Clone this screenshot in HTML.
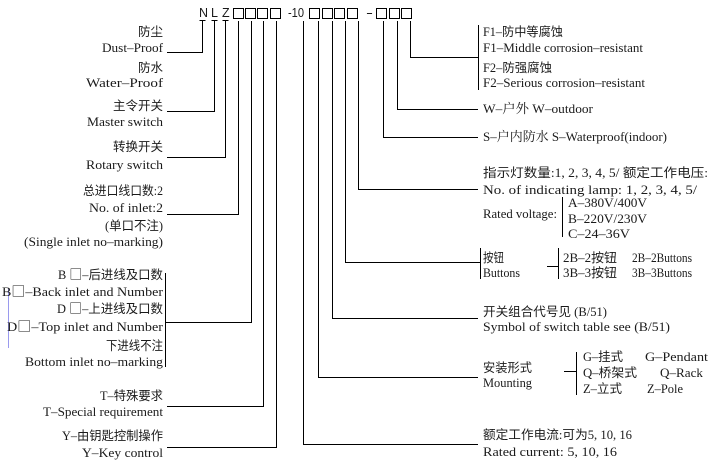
<!DOCTYPE html>
<html><head><meta charset="utf-8"><style>
html,body{margin:0;padding:0;background:#fff;}
svg{display:block;}
text{font-family:"Liberation Serif","Noto Serif CJK SC",serif;font-size:13px;fill:#1a1a1a;}
.c{font-family:"Liberation Serif","Noto Sans CJK SC",sans-serif;font-size:12.5px;}
.h{font-family:"Liberation Sans",sans-serif;font-size:12.5px;}
.l{text-anchor:end;}
.b{font-family:"Noto Sans CJK SC",sans-serif;font-size:13px;}
</style></head><body>
<svg width="711" height="463" viewBox="0 0 711 463" xmlns="http://www.w3.org/2000/svg">
<g stroke="#000" stroke-width="1" fill="none">
<rect x="233.5" y="8.5" width="10" height="10"/>
<rect x="245.5" y="8.5" width="10" height="10"/>
<rect x="257.5" y="8.5" width="10" height="10"/>
<rect x="270.5" y="8.5" width="10" height="10"/>
<rect x="309.5" y="8.5" width="10" height="10"/>
<rect x="322.5" y="8.5" width="10" height="10"/>
<rect x="334.5" y="8.5" width="10" height="10"/>
<rect x="347.5" y="8.5" width="10" height="10"/>
<rect x="376.5" y="8.5" width="10" height="10"/>
<rect x="389.5" y="8.5" width="10" height="10"/>
<rect x="401.5" y="8.5" width="10" height="10"/>
<path d="M199.5 20.5H205.5M211.5 20.5H217.5M222.5 20.5H228.5"/>
<path d="M202.5 20.5V52.5H167"/>
<path d="M214.5 20.5V111.5H167"/>
<path d="M225.5 20.5V157.5H167"/>
<path d="M238.5 21V214.5H167"/>
<path d="M251.5 21V322.5H165.5"/>
<path d="M165.5 273V367"/>
<path d="M263.5 21V406.5H167"/>
<path d="M276.5 21V447.5H167"/>
<path d="M303.5 21V444.5H478"/>
<path d="M318.5 21V377.5H478"/>
<path d="M332.5 21V318.5H478"/>
<path d="M345.5 21V262.5H480.5"/>
<path d="M480.5 248V279"/>
<path d="M358.5 21V189.5H478"/>
<path d="M383.5 21V137.5H478"/>
<path d="M397.5 21V109.5H478"/>
<path d="M410.5 21V57.5H478.5"/>
<path d="M478.5 25V90"/>
<path d="M562.5 197V237"/>
<path d="M547 266.5H558.5M558.5 248V279"/>
<path d="M564 371.5H576.5M576.5 352V395"/>
</g>
<path d="M8.5 288V348" stroke="#9a9aee" stroke-width="1"/>

<text class="h" x="199" y="17">N</text>
<text class="h" x="211" y="17">L</text>
<text class="h" x="222" y="17">Z</text>
<text class="h" x="288" y="17" textLength="16" lengthAdjust="spacingAndGlyphs">-10</text>
<text class="h" x="366" y="17" textLength="7" lengthAdjust="spacingAndGlyphs">-</text>

<text class="l c" x="163" y="36" textLength="25" lengthAdjust="spacingAndGlyphs">防尘</text>
<text class="l" x="163" y="52" textLength="61" lengthAdjust="spacingAndGlyphs">Dust–Proof</text>
<text class="l c" x="163" y="72" textLength="25" lengthAdjust="spacingAndGlyphs">防水</text>
<text class="l" x="163" y="87" textLength="77" lengthAdjust="spacingAndGlyphs">Water–Proof</text>
<text class="l c" x="163" y="110" textLength="50" lengthAdjust="spacingAndGlyphs">主令开关</text>
<text class="l" x="163" y="126" textLength="76" lengthAdjust="spacingAndGlyphs">Master switch</text>
<text class="l c" x="163" y="151" textLength="50" lengthAdjust="spacingAndGlyphs">转换开关</text>
<text class="l" x="163" y="169" textLength="77" lengthAdjust="spacingAndGlyphs">Rotary switch</text>
<text class="l c" x="163" y="195" textLength="80" lengthAdjust="spacingAndGlyphs">总进口线口数:2</text>
<text class="l" x="163" y="212" textLength="74" lengthAdjust="spacingAndGlyphs">No. of inlet:2</text>
<text class="l c" x="163" y="230" textLength="58" lengthAdjust="spacingAndGlyphs">(单口不注)</text>
<text class="l" x="163" y="246" textLength="139" lengthAdjust="spacingAndGlyphs">(Single inlet no–marking)</text>
<text class="l c" x="163" y="279" textLength="105" lengthAdjust="spacingAndGlyphs">B <tspan class="b">□</tspan>–后进线及口数</text>
<text class="l" x="163" y="296" textLength="161" lengthAdjust="spacingAndGlyphs">B<tspan class="b">□</tspan>–Back inlet and Number</text>
<text class="l c" x="163" y="313" textLength="106" lengthAdjust="spacingAndGlyphs">D <tspan class="b">□</tspan>–上进线及口数</text>
<text class="l" x="163" y="331" textLength="156" lengthAdjust="spacingAndGlyphs">D<tspan class="b">□</tspan>–Top inlet and Number</text>
<text class="l c" x="163" y="350" textLength="57" lengthAdjust="spacingAndGlyphs">下进线不注</text>
<text class="l" x="163" y="366" textLength="138" lengthAdjust="spacingAndGlyphs">Bottom inlet no–marking</text>
<text class="l c" x="163" y="400" textLength="63" lengthAdjust="spacingAndGlyphs">T–特殊要求</text>
<text class="l" x="163" y="416" textLength="120" lengthAdjust="spacingAndGlyphs">T–Special requirement</text>
<text class="l c" x="163" y="440" textLength="101" lengthAdjust="spacingAndGlyphs">Y–由钥匙控制操作</text>
<text class="l" x="163" y="457" textLength="81" lengthAdjust="spacingAndGlyphs">Y–Key control</text>

<text class="c" x="483" y="36" textLength="80" lengthAdjust="spacingAndGlyphs">F1–防中等腐蚀</text>
<text x="483" y="52" textLength="160" lengthAdjust="spacingAndGlyphs">F1–Middle corrosion–resistant</text>
<text class="c" x="483" y="72" textLength="69" lengthAdjust="spacingAndGlyphs">F2–防强腐蚀</text>
<text x="483" y="87" textLength="162" lengthAdjust="spacingAndGlyphs">F2–Serious corrosion–resistant</text>
<text x="483" y="113" textLength="110" lengthAdjust="spacingAndGlyphs">W–户外 W–outdoor</text>
<text x="483" y="141" textLength="184" lengthAdjust="spacingAndGlyphs">S–户内防水 S–Waterproof(indoor)</text>
<text class="c" x="483" y="177" textLength="225" lengthAdjust="spacingAndGlyphs">指示灯数量:1, 2, 3, 4, 5/ 额定工作电压:</text>
<text x="483" y="194" textLength="214" lengthAdjust="spacingAndGlyphs">No. of indicating lamp: 1, 2, 3, 4, 5/</text>
<text x="483" y="218" textLength="74" lengthAdjust="spacingAndGlyphs">Rated voltage:</text>
<text x="568" y="207" textLength="79" lengthAdjust="spacingAndGlyphs">A–380V/400V</text>
<text x="568" y="223" textLength="79" lengthAdjust="spacingAndGlyphs">B–220V/230V</text>
<text x="568" y="238" textLength="62" lengthAdjust="spacingAndGlyphs">C–24–36V</text>
<text class="c" x="483" y="262" textLength="21" lengthAdjust="spacingAndGlyphs">按钮</text>
<text x="483" y="277" textLength="37" lengthAdjust="spacingAndGlyphs">Buttons</text>
<text class="c" x="563" y="262" textLength="54" lengthAdjust="spacingAndGlyphs">2B–2按钮</text>
<text x="632" y="262" textLength="60" lengthAdjust="spacingAndGlyphs">2B–2Buttons</text>
<text class="c" x="563" y="277" textLength="54" lengthAdjust="spacingAndGlyphs">3B–3按钮</text>
<text x="632" y="277" textLength="60" lengthAdjust="spacingAndGlyphs">3B–3Buttons</text>
<text class="c" x="483" y="316" textLength="124" lengthAdjust="spacingAndGlyphs">开关组合代号见 (B/51)</text>
<text x="483" y="331" textLength="187" lengthAdjust="spacingAndGlyphs">Symbol of switch table see (B/51)</text>
<text class="c" x="483" y="372" textLength="49" lengthAdjust="spacingAndGlyphs">安装形式</text>
<text x="483" y="387" textLength="49" lengthAdjust="spacingAndGlyphs">Mounting</text>
<text class="c" x="583" y="361" textLength="40" lengthAdjust="spacingAndGlyphs">G–挂式</text>
<text x="645" y="361" textLength="63" lengthAdjust="spacingAndGlyphs">G–Pendant</text>
<text class="c" x="583" y="377" textLength="54" lengthAdjust="spacingAndGlyphs">Q–桥架式</text>
<text x="660" y="377" textLength="43" lengthAdjust="spacingAndGlyphs">Q–Rack</text>
<text class="c" x="583" y="393" textLength="39" lengthAdjust="spacingAndGlyphs">Z–立式</text>
<text x="647" y="393" textLength="36" lengthAdjust="spacingAndGlyphs">Z–Pole</text>
<text class="c" x="483" y="439" textLength="149" lengthAdjust="spacingAndGlyphs">额定工作电流:可为5, 10, 16</text>
<text x="483" y="456" textLength="134" lengthAdjust="spacingAndGlyphs">Rated current: 5, 10, 16</text>
</svg>
</body></html>
